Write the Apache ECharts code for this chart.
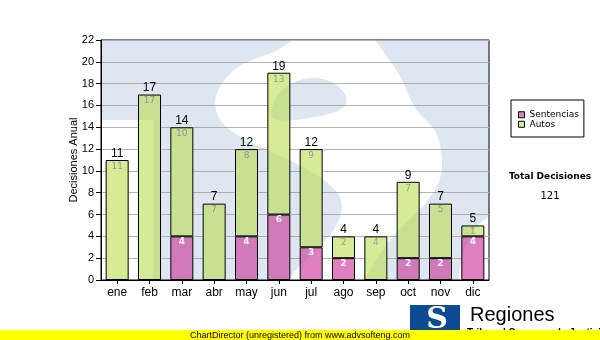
<!DOCTYPE html>
<html>
<head>
<meta charset="utf-8">
<script src="https://cdn.jsdelivr.net/npm/echarts@6/dist/echarts.min.js"></script>
<style>
  html, body { margin: 0; padding: 0; background: #fff; }
  #chart { width: 600px; height: 340px; }
</style>
</head>
<body>
<div id="chart"></div>
<script>
// Monthly decisions, split by type
const months = ['ene', 'feb', 'mar', 'abr', 'may', 'jun', 'jul', 'ago', 'sep', 'oct', 'nov', 'dic'];
const sentencias = [0, 0, 4, 0, 4, 6, 3, 2, 0, 2, 2, 4];
const autos = [11, 17, 10, 7, 8, 13, 9, 2, 4, 7, 5, 1];
const seriesNames = ['Sentencias', 'Autos'];
const yMin = 0, yMax = 22, yStep = 2;

const totals = months.map((m, i) => sentencias[i] + autos[i]);
const grandTotal = totals.reduce((a, b) => a + b, 0);

// plot rectangle (px)
const plot = { left: 101, top: 40, width: 388, height: 240 };

// "S" emblem watermark behind the plot, outlines in fractions of the plot box
const sStroke = [
  [0.526, -0.04], [0.461, 0.042], [0.402, 0.075], [0.353, 0.108], [0.320, 0.158],
  [0.294, 0.229], [0.294, 0.292], [0.314, 0.358], [0.376, 0.421], [0.428, 0.458],
  [0.513, 0.521], [0.577, 0.583], [0.624, 0.658], [0.616, 0.758], [0.564, 0.867],
  [0.508, 0.942], [0.466, 1.04], [0.668, 1.04], [0.714, 0.896], [0.771, 0.783],
  [0.835, 0.688], [0.879, 0.583], [0.879, 0.458], [0.863, 0.375], [0.832, 0.325],
  [0.812, 0.292], [0.796, 0.242], [0.771, 0.146], [0.735, 0.063], [0.688, -0.04]
];
const sCounter = [
  [0.436, 0.342], [0.441, 0.267], [0.469, 0.200], [0.518, 0.158], [0.580, 0.158],
  [0.626, 0.208], [0.637, 0.267], [0.606, 0.304], [0.528, 0.329]
];
const rightCut = [[1.04, 0.688], [0.966, 0.771], [0.933, 0.875], [0.915, 1.04], [1.04, 1.04]];
const leftCut = { u0: -0.01, v0: 0.333, u1: 0.134, v1: 1.01 };

function fillSmooth(g, pts, w, h) {
  const P = pts.map(([u, v]) => [u * w, v * h]);
  const n = P.length;
  const mid = (a, b) => [(a[0] + b[0]) / 2, (a[1] + b[1]) / 2];
  g.beginPath();
  const m0 = mid(P[n - 1], P[0]);
  g.moveTo(m0[0], m0[1]);
  for (let i = 0; i < n; i++) {
    const p = P[i], q = P[(i + 1) % n], mm = mid(p, q);
    g.quadraticCurveTo(p[0], p[1], mm[0], mm[1]);
  }
  g.closePath();
  g.fill();
}

function paintWatermark(tint) {
  const c = document.createElement('canvas');
  c.width = plot.width;
  c.height = plot.height;
  const g = c.getContext('2d');
  const w = c.width, h = c.height;
  g.fillStyle = tint;
  g.fillRect(0, 0, w, h);
  g.fillStyle = '#ffffff';
  fillSmooth(g, sStroke, w, h);
  fillSmooth(g, rightCut, w, h);
  g.fillRect(leftCut.u0 * w, leftCut.v0 * h, (leftCut.u1 - leftCut.u0) * w, (leftCut.v1 - leftCut.v0) * h);
  g.fillStyle = tint;
  fillSmooth(g, sCounter, w, h);
  return c;
}

// two passes: a base tint under everything and a multiply tint over the bars
const wallBase = paintWatermark('#eef2f8');
const wallTint = paintWatermark('#eef4f8');

const sansAxis = 'Liberation Sans, Arial, sans-serif';
const sansSmall = 'DejaVu Sans, Verdana, sans-serif';

const chart = echarts.init(document.getElementById('chart'), null, { renderer: 'canvas' });
chart.setOption({
  animation: false,
  textStyle: { fontFamily: sansAxis },
  grid: {
    left: plot.left, top: plot.top, width: plot.width, height: plot.height,
    show: true, borderColor: '#000', borderWidth: 1, backgroundColor: 'transparent'
  },
  legend: {
    orient: 'vertical',
    left: 511, top: 100,
    padding: [10, 5, 8, 7],
    itemGap: 0,
    itemWidth: 6, itemHeight: 6,
    icon: 'rect',
    selectedMode: false,
    borderColor: '#000', borderWidth: 1, backgroundColor: '#fff',
    textStyle: { fontFamily: sansSmall, fontSize: 9, color: '#000', lineHeight: 9.5 },
    data: [
      { name: seriesNames[0], itemStyle: { color: '#e07fc0', borderColor: '#000', borderWidth: 1 } },
      { name: seriesNames[1], itemStyle: { color: '#d5eb96', borderColor: '#000', borderWidth: 1 } }
    ]
  },
  xAxis: {
    type: 'category',
    data: months,
    axisLine: { show: true, lineStyle: { color: '#000', width: 1 } },
    axisTick: { show: true, alignWithLabel: true, length: 4, lineStyle: { color: '#000' } },
    axisLabel: { color: '#000', fontSize: 12, margin: 7, fontFamily: sansAxis },
    splitLine: { show: false }
  },
  yAxis: {
    type: 'value',
    min: yMin, max: yMax, interval: yStep,
    name: 'Decisiones Anual',
    nameLocation: 'middle',
    nameGap: 22,
    nameMoveOverlap: false,
    nameTextStyle: { fontSize: 11, color: '#000', fontFamily: sansAxis },
    axisLine: { show: true, lineStyle: { color: '#000', width: 1 } },
    axisTick: { show: true, length: 5, lineStyle: { color: '#000' } },
    axisLabel: { color: '#000', fontSize: 11, margin: 7, fontFamily: sansAxis },
    splitLine: { show: true, lineStyle: { color: '#b4b4b4', width: 1 } }
  },
  series: [
    {
      name: seriesNames[0],
      type: 'bar',
      stack: 'decisiones',
      data: sentencias,
      barWidth: 23,
      itemStyle: { color: '#e07fc0', borderColor: '#000', borderWidth: 1 },
      label: {
        show: true, position: 'insideTop', distance: 1,
        color: '#fff', fontFamily: sansSmall, fontSize: 9, fontWeight: 'bold',
        formatter: p => (p.value ? String(p.value) : '')
      },
      emphasis: { disabled: true }
    },
    {
      name: seriesNames[1],
      type: 'bar',
      stack: 'decisiones',
      data: autos,
      barWidth: 23,
      itemStyle: { color: '#d5eb96', borderColor: '#000', borderWidth: 1 },
      label: {
        show: true,
        position: ['50%', -13],
        align: 'center', verticalAlign: 'top',
        formatter: p => '{t|' + totals[p.dataIndex] + '}\n{v|' + p.value + '}',
        rich: {
          t: { fontFamily: sansAxis, fontSize: 12, color: '#000', lineHeight: 13, align: 'center' },
          v: { fontFamily: sansSmall, fontSize: 9, color: '#9a9a9a', lineHeight: 13, align: 'center' }
        }
      },
      emphasis: { disabled: true }
    }
  ],
  graphic: [
    {
      type: 'image', x: plot.left, y: plot.top, z: -10, silent: true,
      style: { image: wallBase, width: plot.width, height: plot.height }
    },
    {
      type: 'image', x: plot.left, y: plot.top, z: 50, silent: true,
      style: { image: wallTint, width: plot.width, height: plot.height, blend: 'multiply' }
    },
    {
      type: 'text', x: 550, y: 177, silent: true,
      style: { text: 'Total Decisiones', font: 'bold 9px ' + sansSmall, fill: '#000', align: 'center', verticalAlign: 'middle' }
    },
    {
      type: 'text', x: 550, y: 196, silent: true,
      style: { text: String(grandTotal), font: '10px ' + sansSmall, fill: '#000', align: 'center', verticalAlign: 'middle' }
    },
    // emblem and caption at the bottom right
    {
      type: 'rect', silent: true, z: 5,
      shape: { x: 410, y: 305, width: 50, height: 26 },
      style: { fill: '#0d4b92' }
    },
    {
      type: 'text', x: 437, y: 320, silent: true, z: 6,
      style: { text: 'S', font: 'bold 30px DejaVu Serif', fill: '#fff', align: 'center', verticalAlign: 'middle' }
    },
    {
      type: 'text', x: 470, y: 315, silent: true, z: 5,
      style: { text: 'Regiones', font: '20px ' + sansAxis, fill: '#000', align: 'left', verticalAlign: 'middle' }
    },
    {
      type: 'text', x: 467, y: 328, silent: true, z: 5,
      style: { text: 'Tribunal Supremo de Justicia', font: 'bold 10px ' + sansAxis, fill: '#000', align: 'left', verticalAlign: 'top' }
    },
    {
      type: 'rect', silent: true, z: 8,
      shape: { x: 0, y: 330, width: 600, height: 10 },
      style: { fill: '#ffff00' }
    },
    {
      type: 'text', x: 190, y: 335.5, silent: true, z: 9,
      style: { text: 'ChartDirector (unregistered) from www.advsofteng.com', font: '9px ' + sansAxis, fill: '#000', align: 'left', verticalAlign: 'middle' }
    }
  ]
});
</script>
</body>
</html>
